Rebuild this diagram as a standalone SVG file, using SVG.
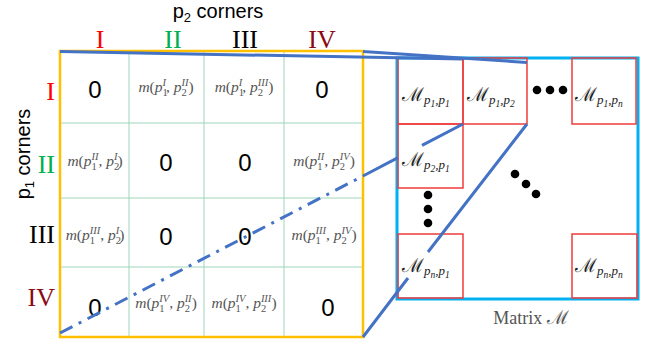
<svg xmlns="http://www.w3.org/2000/svg" width="654" height="345" viewBox="0 0 654 345">
<style>
.hdr{font-family:"Liberation Sans",Arial,sans-serif;font-size:20px;fill:#000}
.rom{font-family:"Liberation Serif","Times New Roman",serif;font-size:26px}
.zero{font-family:"Liberation Sans",Arial,sans-serif;font-size:24px;fill:#000;text-anchor:middle}
.m{font-family:"Liberation Serif","Times New Roman",serif;font-size:15.5px;fill:#555;text-anchor:middle}
.i{font-style:italic}
.s{font-size:10.5px}
.grid{stroke:#9fd6bb;stroke-width:1;fill:none}
.ybox{stroke:#FFC000;stroke-width:2.5;fill:none}
.cbox{stroke:#00B0F0;stroke-width:3;fill:none}
.rbox{stroke:#F03c3c;stroke-width:1.5;fill:none}
.M{font-family:"DejaVu Serif","Liberation Serif",serif;font-size:19px;fill:#222}
.ms{font-family:"Liberation Serif",serif;font-style:italic;font-size:13px}
.mss{font-family:"Liberation Serif",serif;font-style:italic;font-size:9.5px}
.blue{stroke:#4472C4;stroke-width:3;fill:none}
.dashdot{stroke-dasharray:14 7 3 7}
</style>

<g id="headers">
  <text class="hdr" x="218" y="18" text-anchor="middle">p<tspan font-size="13" dy="4">2</tspan><tspan dy="-4"> corners</tspan></text>
  <text class="hdr" transform="translate(30,154) rotate(-90)" text-anchor="middle">p<tspan font-size="13" dy="4">1</tspan><tspan dy="-4"> corners</tspan></text>
  <text class="rom" x="100" y="48" text-anchor="middle" fill="#FF0000">I</text>
  <text class="rom" x="173" y="48" text-anchor="middle" fill="#00B050">II</text>
  <text class="rom" x="245" y="48" text-anchor="middle" fill="#000">III</text>
  <text class="rom" x="322" y="48" text-anchor="middle" fill="#8B0A14">IV</text>
  <text class="rom" x="55" y="100" text-anchor="end" fill="#FF0000">I</text>
  <text class="rom" x="55" y="173" text-anchor="end" fill="#00B050">II</text>
  <text class="rom" x="55" y="243" text-anchor="end" fill="#000">III</text>
  <text class="rom" x="55" y="306" text-anchor="end" fill="#8B0A14">IV</text>
</g>

<g id="corner-table">
  <path class="grid" d="M129,51V337M204,51V337M284,51V337M60,123H363M60,198H363M60,267H363"/>
  <rect class="ybox" x="60" y="51" width="303" height="286"/>
  <text class="zero" x="95" y="98">0</text>
  <text class="zero" x="322" y="98">0</text>
  <text class="zero" x="166" y="171">0</text>
  <text class="zero" x="245" y="171">0</text>
  <text class="zero" x="166" y="245">0</text>
  <text class="zero" x="245" y="245">0</text>
  <text class="zero" x="95" y="316">0</text>
  <text class="zero" x="328" y="316">0</text>

  <text class="m" x="166" y="92"><tspan class="i">m</tspan>(<tspan class="i">p</tspan><tspan class="s" dy="3.5">1</tspan><tspan class="s i" dx="-5.3" dy="-10">I</tspan><tspan dy="6.5">, </tspan><tspan class="i">p</tspan><tspan class="s" dy="3.5">2</tspan><tspan class="s i" dx="-5.3" dy="-10">II</tspan><tspan dy="6.5">)</tspan></text>
  <text class="m" x="244" y="92"><tspan class="i">m</tspan>(<tspan class="i">p</tspan><tspan class="s" dy="3.5">1</tspan><tspan class="s i" dx="-5.3" dy="-10">I</tspan><tspan dy="6.5">, </tspan><tspan class="i">p</tspan><tspan class="s" dy="3.5">2</tspan><tspan class="s i" dx="-5.3" dy="-10">III</tspan><tspan dy="6.5">)</tspan></text>

  <text class="m" x="95" y="166"><tspan class="i">m</tspan>(<tspan class="i">p</tspan><tspan class="s" dy="3.5">1</tspan><tspan class="s i" dx="-5.3" dy="-10">II</tspan><tspan dy="6.5">, </tspan><tspan class="i">p</tspan><tspan class="s" dy="3.5">2</tspan><tspan class="s i" dx="-5.3" dy="-10">I</tspan><tspan dy="6.5">)</tspan></text>
  <text class="m" x="324" y="166"><tspan class="i">m</tspan>(<tspan class="i">p</tspan><tspan class="s" dy="3.5">1</tspan><tspan class="s i" dx="-5.3" dy="-10">II</tspan><tspan dy="6.5">, </tspan><tspan class="i">p</tspan><tspan class="s" dy="3.5">2</tspan><tspan class="s i" dx="-5.3" dy="-10">IV</tspan><tspan dy="6.5">)</tspan></text>

  <text class="m" x="95" y="240"><tspan class="i">m</tspan>(<tspan class="i">p</tspan><tspan class="s" dy="3.5">1</tspan><tspan class="s i" dx="-5.3" dy="-10">III</tspan><tspan dy="6.5">, </tspan><tspan class="i">p</tspan><tspan class="s" dy="3.5">2</tspan><tspan class="s i" dx="-5.3" dy="-10">I</tspan><tspan dy="6.5">)</tspan></text>
  <text class="m" x="324" y="240"><tspan class="i">m</tspan>(<tspan class="i">p</tspan><tspan class="s" dy="3.5">1</tspan><tspan class="s i" dx="-5.3" dy="-10">III</tspan><tspan dy="6.5">, </tspan><tspan class="i">p</tspan><tspan class="s" dy="3.5">2</tspan><tspan class="s i" dx="-5.3" dy="-10">IV</tspan><tspan dy="6.5">)</tspan></text>

  <text class="m" x="166" y="308"><tspan class="i">m</tspan>(<tspan class="i">p</tspan><tspan class="s" dy="3.5">1</tspan><tspan class="s i" dx="-5.3" dy="-10">IV</tspan><tspan dy="6.5">, </tspan><tspan class="i">p</tspan><tspan class="s" dy="3.5">2</tspan><tspan class="s i" dx="-5.3" dy="-10">II</tspan><tspan dy="6.5">)</tspan></text>
  <text class="m" x="244" y="308"><tspan class="i">m</tspan>(<tspan class="i">p</tspan><tspan class="s" dy="3.5">1</tspan><tspan class="s i" dx="-5.3" dy="-10">IV</tspan><tspan dy="6.5">, </tspan><tspan class="i">p</tspan><tspan class="s" dy="3.5">2</tspan><tspan class="s i" dx="-5.3" dy="-10">III</tspan><tspan dy="6.5">)</tspan></text>
</g>

<g id="matrix-M">
  <rect class="cbox" x="397" y="58" width="241" height="241"/>
  <rect class="rbox" x="398" y="58" width="65" height="66"/>
  <rect class="rbox" x="463" y="58" width="64" height="66"/>
  <rect class="rbox" x="572" y="58" width="64" height="66"/>
  <rect class="rbox" x="398" y="124" width="65" height="64"/>
  <rect class="rbox" x="398" y="234" width="65" height="64"/>
  <rect class="rbox" x="572" y="234" width="65" height="64"/>

  <text class="M" x="402" y="101">ℳ<tspan class="ms" dy="3">p</tspan><tspan class="mss" dy="3">1</tspan><tspan class="ms" dy="-3">,p</tspan><tspan class="mss" dy="3">1</tspan></text>
  <text class="M" x="467" y="101">ℳ<tspan class="ms" dy="3">p</tspan><tspan class="mss" dy="3">1</tspan><tspan class="ms" dy="-3">,p</tspan><tspan class="mss" dy="3">2</tspan></text>
  <text class="M" x="575" y="101">ℳ<tspan class="ms" dy="3">p</tspan><tspan class="mss" dy="3">1</tspan><tspan class="ms" dy="-3">,p</tspan><tspan class="mss" dy="3">n</tspan></text>
  <text class="M" x="402" y="166">ℳ<tspan class="ms" dy="3">p</tspan><tspan class="mss" dy="3">2</tspan><tspan class="ms" dy="-3">,p</tspan><tspan class="mss" dy="3">1</tspan></text>
  <text class="M" x="402" y="272">ℳ<tspan class="ms" dy="3">p</tspan><tspan class="mss" dy="3">n</tspan><tspan class="ms" dy="-3">,p</tspan><tspan class="mss" dy="3">1</tspan></text>
  <text class="M" x="575" y="272">ℳ<tspan class="ms" dy="3">p</tspan><tspan class="mss" dy="3">n</tspan><tspan class="ms" dy="-3">,p</tspan><tspan class="mss" dy="3">n</tspan></text>

  <g fill="#000">
    <circle cx="537" cy="90" r="4.3"/><circle cx="550" cy="90" r="4.3"/><circle cx="563" cy="90" r="4.3"/>
    <circle cx="428" cy="195" r="4.3"/><circle cx="428" cy="209" r="4.3"/><circle cx="428" cy="223" r="4.3"/>
    <circle cx="515" cy="174" r="4.3"/><circle cx="526" cy="184" r="4.3"/><circle cx="536" cy="194" r="4.3"/>
  </g>
  <text x="531" y="324" text-anchor="middle" font-family="Liberation Serif, serif" font-size="18" fill="#555">Matrix <tspan font-family="DejaVu Serif, serif" font-size="19">ℳ</tspan></text>
</g>

<g id="connectors">
  <path class="blue" d="M60,51.5L463,59"/>
  <path class="blue" d="M363,51.5L527,62.5"/>
  <path class="blue dashdot" d="M60,333L363,176"/>
  <path class="blue" d="M363,176L398,157.7M422,145.3L463,124"/>
  <path class="blue" d="M363,337L408,278M428,252L527,124"/>
</g>
</svg>
